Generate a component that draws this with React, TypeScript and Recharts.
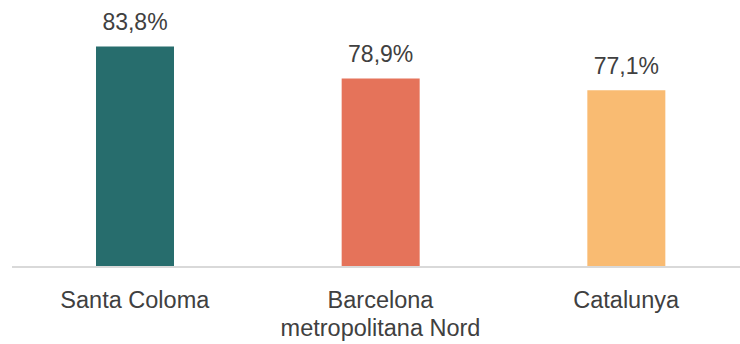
import React from 'react';
import { BarChart, Bar, XAxis, YAxis, Cell, LabelList } from 'recharts';

const categories = ['Santa Coloma', 'Barcelona\nmetropolitana Nord', 'Catalunya'];
const values = [83.8, 78.9, 77.1];
const colors = ['#276D6D', '#E5735A', '#F9BB72'];

const data = categories.map((name, i) => ({ name, value: values[i] }));

const fmt = (v: number) => v.toFixed(1).replace('.', ',') + '%';

function CategoryTick({ x, y, payload }: any) {
  const lines = String(payload.value).split('\n');
  return (
    <text x={x} y={y} textAnchor="middle" fill="#404040" fontSize={23.5} fontFamily="'Liberation Sans', Arial, sans-serif">
      {lines.map((line, i) => (
        <tspan key={i} x={x} dy={i === 0 ? 33 : 28}>{line}</tspan>
      ))}
    </text>
  );
}

export default function App() {
  return (
    <div style={{ position: 'fixed', left: 0, top: 0, width: 740, height: 344, overflow: 'hidden', background: '#fff' }}>
      <BarChart width={749} height={344} data={data} margin={{ top: 6, right: 0, left: 12, bottom: 0 }}>
        <XAxis
          dataKey="name"
          height={77}
          interval={0}
          tickLine={false}
          axisLine={{ stroke: '#D9D9D9', strokeWidth: 2 }}
          tick={<CategoryTick />}
        />
        <YAxis hide domain={[50, 90]} allowDataOverflow />
        <Bar dataKey="value" barSize={78} isAnimationActive={false}>
          {data.map((d, i) => (
            <Cell key={d.name} fill={colors[i]} />
          ))}
          <LabelList
            dataKey="value"
            position="top"
            offset={16}
            formatter={(v: any) => fmt(Number(v))}
            fill="#404040"
            fontSize={23}
            fontFamily="'Liberation Sans', Arial, sans-serif"
          />
        </Bar>
      </BarChart>
    </div>
  );
}
